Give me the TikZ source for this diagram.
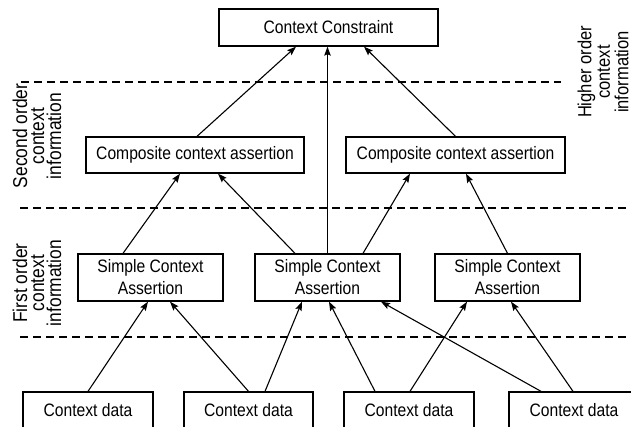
\documentclass[tikz,border=0pt]{standalone}
\usepackage{fontspec}
\setmainfont{Liberation Sans}[FakeStretch=0.87]
\usetikzlibrary{arrows.meta}
\begin{document}
\begin{tikzpicture}[x=1pt,y=-1pt,
  box/.style={draw, line width=1.3pt, inner sep=0pt, align=center,
    font=\fontsize{18}{22}\selectfont},
  arr/.style={line width=1.1pt, -{Stealth[length=9pt,width=6.5pt,inset=1.5pt]}},
  sep/.style={line width=1.4pt, dash pattern=on 8pt off 5pt},
  lab/.style={rotate=90, align=center, inner sep=0pt}]
\useasboundingbox (0,0) rectangle (631,426);
\clip (0,0) rectangle (631,426);
% separators
\coordinate (d1a) at (21,82);  \coordinate (d1b) at (561,82);
\coordinate (d2a) at (20,208); \coordinate (d2b) at (631,208);
\coordinate (d3a) at (20,337); \coordinate (d3b) at (631,337);
\draw[sep] (d1a) -- (d1b);
\draw[sep] (d2a) -- (d2b);
\draw[sep] (d3a) -- (d3b);
% nodes
\node[box, minimum width=219pt, minimum height=37pt] (cc) at (328.5,27.5) {Context Constraint};
\node[box, minimum width=218pt, minimum height=36pt] (lcomp) at (195,155) {Composite context assertion};
\node[box, minimum width=219pt, minimum height=36pt] (rcomp) at (455.5,155) {Composite context assertion};
\node[box, minimum width=145pt, minimum height=47pt] (lsim) at (150.5,277.5) {Simple Context\\Assertion};
\node[box, minimum width=145pt, minimum height=47pt] (msim) at (327.5,277.5) {Simple Context\\Assertion};
\node[box, minimum width=145pt, minimum height=47pt] (rsim) at (507.5,277.5) {Simple Context\\Assertion};
\node[box, minimum width=130pt, minimum height=36pt] (cd1) at (88,410) {Context data};
\node[box, minimum width=129pt, minimum height=36pt] (cd2) at (248.5,410) {Context data};
\node[box, minimum width=130pt, minimum height=36pt] (cd3) at (409,410) {Context data};
\node[box, minimum width=130pt, minimum height=36pt] (cd4) at (574,410) {Context data};
% labels
\node[lab, font=\fontsize{20}{17}\selectfont] (l2) at (37,136) {Second order\\context\\information};
\node[lab, font=\fontsize{20}{17}\selectfont] (l1) at (37,283) {First order\\context\\information};
\node[lab, font=\fontsize{19}{18.5}\selectfont] (lh) at (603,72) {Higher order\\context\\information};
% connectors
\draw[arr] ([xshift=2pt]lcomp.north) -- ([xshift=-32.5pt]cc.south);
\draw[arr] (msim.north) -- (msim.north |- cc.south);
\draw[arr] (rcomp.north) -- ([xshift=35.5pt]cc.south);
\draw[arr] ([xshift=-27.5pt]lsim.north) -- ([xshift=-15pt]lcomp.south);
\draw[arr] ([xshift=-32.5pt]msim.north) -- ([xshift=23pt]lcomp.south);
\draw[arr] ([xshift=35.5pt]msim.north) -- ([xshift=-45.5pt]rcomp.south);
\draw[arr] (rsim.north) -- ([xshift=10.5pt]rcomp.south);
\draw[arr] (cd1.north) -- ([xshift=-2.5pt]lsim.south);
\draw[arr] (cd2.north) -- ([xshift=19.5pt]lsim.south);
\draw[arr] ([xshift=16.5pt]cd2.north) -- ([xshift=-25.5pt]msim.south);
\draw[arr] ([xshift=-34pt]cd3.north) -- ([xshift=1.5pt]msim.south);
\draw[arr] ([xshift=1pt]cd3.north) -- ([xshift=-40.5pt]rsim.south);
\draw[arr] ([xshift=-33pt]cd4.north) -- ([xshift=53.5pt]msim.south);
\draw[arr] ([xshift=-1pt]cd4.north) -- ([xshift=3.5pt]rsim.south);
\end{tikzpicture}
\end{document}
